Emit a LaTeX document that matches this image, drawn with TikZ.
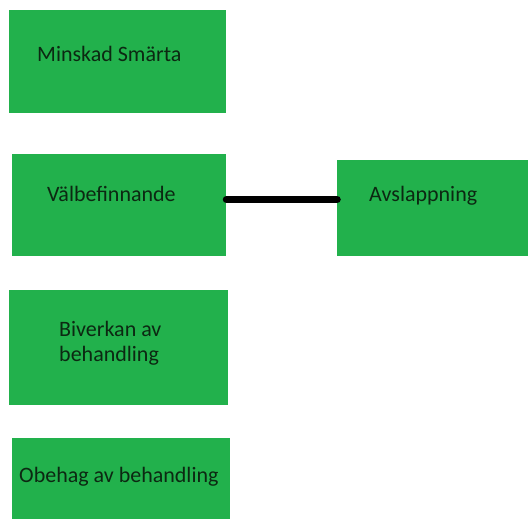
\documentclass[tikz,border=0pt]{standalone}
\usepackage{fontspec}
\setmainfont{Carlito}
\definecolor{boxgreen}{RGB}{34,177,76}
\definecolor{txt}{RGB}{12,40,18}
\begin{document}
\begin{tikzpicture}[x=1pt,y=1pt,
  box/.style={fill=boxgreen, draw=none, inner sep=0pt, outer sep=0pt, anchor=south west},
  lbl/.style={anchor=base west, inner sep=0pt, text=txt, font=\fontsize{22}{25}\selectfont}]
\useasboundingbox (0,0) rectangle (528,519);
\node[box, minimum width=217pt, minimum height=103pt] (b1) at (9,406) {};
\node[box, minimum width=214pt, minimum height=102pt] (b2) at (12,263) {};
\node[box, minimum width=191pt, minimum height=96pt] (b3) at (337,263) {};
\node[box, minimum width=219pt, minimum height=115pt] (b4) at (9,114) {};
\node[box, minimum width=218pt, minimum height=81pt] (b5) at (12,0) {};
\node[lbl] (t1) at (37,457) {Minskad Smärta};
\node[lbl] (t2) at (47,317) {Välbefinnande};
\node[lbl] (t3) at (369,317) {Avslappning};
\node[lbl] (t4a) at (59,182) {Biverkan av};
\node[lbl] (t4b) at (59,157) {behandling};
\node[lbl] (t5) at (19,36) {Obehag av behandling};
\coordinate (ly) at (0,319.5);
\draw[line width=7.5pt, line cap=round] ([xshift=0.5pt]b2.east |- ly) -- (b3.west |- ly);
\end{tikzpicture}
\end{document}
